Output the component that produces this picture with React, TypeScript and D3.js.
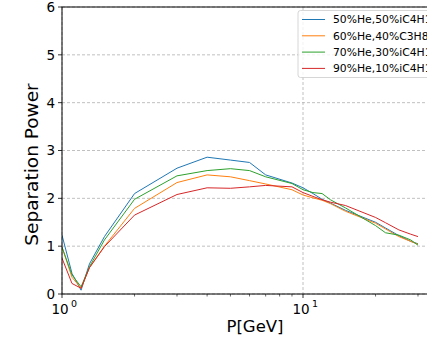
import React from "react";
import * as d3 from "d3";

const momentum = [1, 1.1, 1.2, 1.3, 1.5, 2, 3, 4, 5, 6, 7, 9, 10, 11, 12, 13, 15, 20, 22, 25, 28, 30];
const he50 = [1.23, 0.43, 0.08, 0.63, 1.2, 2.1, 2.63, 2.86, 2.8, 2.75, 2.49, 2.32, 2.22, 2.1, 1.98, 1.9, 1.75, 1.5, 1.38, 1.22, 1.1, 1.05];
const he60 = [0.98, 0.35, 0.12, 0.55, 1.0, 1.79, 2.33, 2.49, 2.45, 2.37, 2.3, 2.18, 2.07, 2.01, 1.96, 1.89, 1.73, 1.48, 1.36, 1.2, 1.1, 1.04];
const he70 = [0.98, 0.4, 0.15, 0.57, 1.13, 1.98, 2.47, 2.58, 2.62, 2.58, 2.45, 2.31, 2.18, 2.12, 2.1, 1.97, 1.8, 1.43, 1.28, 1.23, 1.13, 1.02];
const he90 = [0.75, 0.22, 0.12, 0.55, 0.99, 1.65, 2.08, 2.22, 2.21, 2.24, 2.27, 2.24, 2.12, 2.04, 1.97, 1.92, 1.85, 1.6, 1.49, 1.34, 1.25, 1.2];
const seriesLabels = ["50%He,50%iC4H10", "60%He,40%C3H8", "70%He,30%iC4H10", "90%He,10%iC4H10"];
const seriesColors = ["#1f77b4", "#ff7f0e", "#2ca02c", "#d62728"];
const yTicks = [0, 1, 2, 3, 4, 5, 6];
const xMajor = [1, 10];
const xMinor = [2, 3, 4, 5, 6, 7, 8, 9, 20, 30];

export default function App() {
  const W = 427, H = 338;
  const left = 62, top = 7, bottom = 294;
  const right = 62 + 241 * 1.55;
  const x = d3.scaleLog().domain([1, Math.pow(10, 1.55)]).range([left, right]);
  const y = d3.scaleLinear().domain([0, 6]).range([bottom, top]);
  const series = [he50, he60, he70, he90];
  const line = d3.line<number>().x((_, i) => x(momentum[i])).y((d) => y(d));
  const font = "DejaVu Sans, sans-serif";
  return (
    <svg width={W} height={H} style={{ position: "absolute", left: 0, top: 0, background: "#fff" }}>
      <defs>
        <clipPath id="plot">
          <rect x={left} y={top} width={right - left} height={bottom - top} />
        </clipPath>
      </defs>
      {yTicks.map((t) => (
        <line key={"gy" + t} x1={left} x2={right} y1={y(t)} y2={y(t)} stroke="#b0b0b0" strokeWidth={0.8} strokeDasharray="3,2" />
      ))}
      {xMajor.map((t) => (
        <line key={"gx" + t} x1={x(t)} x2={x(t)} y1={top} y2={bottom} stroke="#b0b0b0" strokeWidth={0.8} strokeDasharray="3,2" />
      ))}
      <g clipPath="url(#plot)">
        {series.map((s, i) => (
          <path key={i} d={line(s) || ""} fill="none" stroke={seriesColors[i]} strokeWidth={1} strokeLinejoin="round" />
        ))}
      </g>
      <rect x={left} y={top} width={right - left} height={bottom - top} fill="none" stroke="#000" strokeWidth={1} />
      {yTicks.map((t) => (
        <g key={"yt" + t}>
          <line x1={left - 4} x2={left} y1={y(t)} y2={y(t)} stroke="#000" strokeWidth={0.8} />
          <text x={left - 7} y={y(t)} dy="0.36em" textAnchor="end" fontFamily={font} fontSize={13.5}>{t}</text>
        </g>
      ))}
      {xMajor.map((t, i) => (
        <g key={"xt" + t}>
          <line x1={x(t)} x2={x(t)} y1={bottom} y2={bottom + 4} stroke="#000" strokeWidth={0.8} />
          <text x={x(t) - 2} y={bottom + 20} textAnchor="middle" fontFamily={font} fontSize={13.5}>
            10
          </text>
          <text x={x(t) + 9} y={bottom + 13} textAnchor="start" fontFamily={font} fontSize={9.5}>{i}</text>
        </g>
      ))}
      {xMinor.map((t) => (
        <line key={"xm" + t} x1={x(t)} x2={x(t)} y1={bottom} y2={bottom + 2.5} stroke="#000" strokeWidth={0.6} />
      ))}
      <text x={255} y={332} textAnchor="middle" fontFamily={font} fontSize={16.5}>P[GeV]</text>
      <text transform={`translate(38, ${(top + bottom) / 2 + 14}) rotate(-90)`} textAnchor="middle" fontFamily={font} fontSize={18.5}>Separation Power</text>
      <g>
        <rect x={298} y={10.5} width={160} height={67} rx={2.5} fill="#fff" fillOpacity={0.8} stroke="#cccccc" strokeWidth={0.8} />
        {seriesLabels.map((lab, i) => (
          <g key={lab}>
            <line x1={302} x2={325} y1={19.5 + i * 16.3} y2={19.5 + i * 16.3} stroke={seriesColors[i]} strokeWidth={1} />
            <text x={333} y={19.5 + i * 16.3} dy="0.36em" fontFamily={font} fontSize={10.8}>{lab}</text>
          </g>
        ))}
      </g>
    </svg>
  );
}
